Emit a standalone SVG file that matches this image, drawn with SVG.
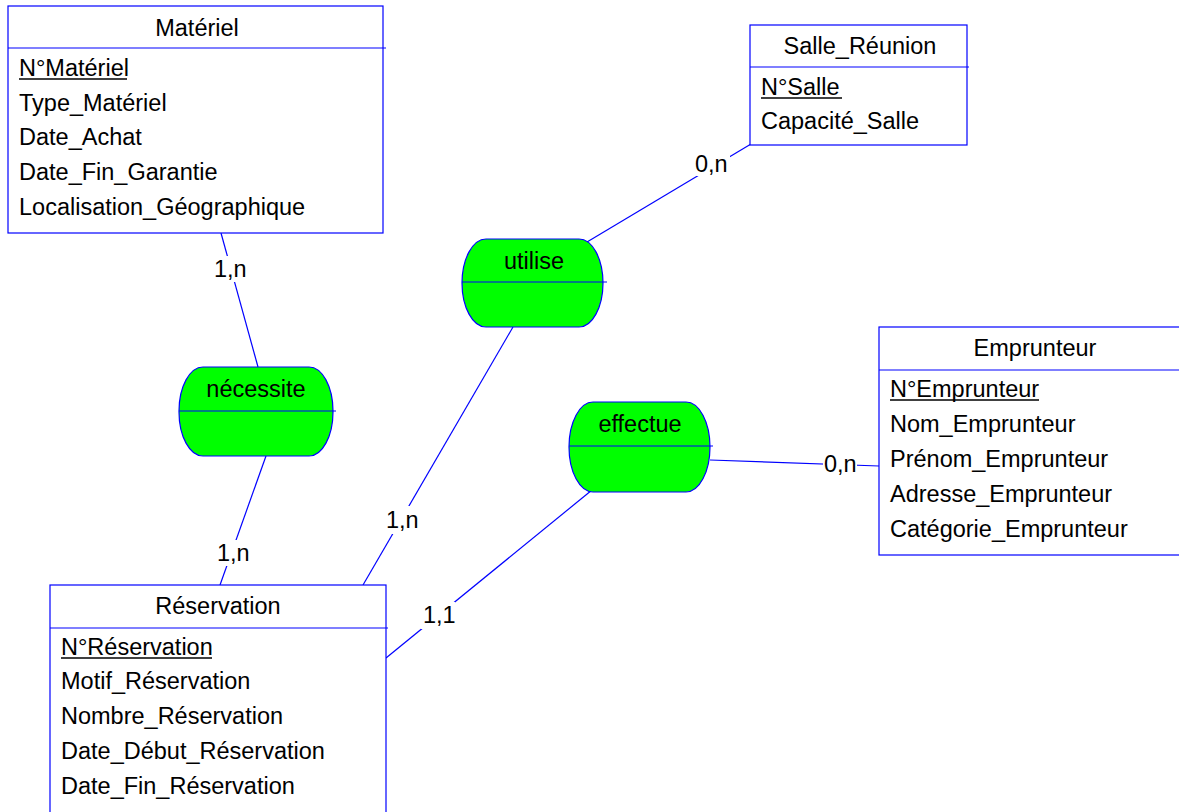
<svg xmlns="http://www.w3.org/2000/svg" width="1179" height="812" viewBox="0 0 1179 812">
<style>
text{font-family:"Liberation Sans",Arial,sans-serif;font-size:23.5px;fill:#000}
.hd{text-anchor:middle}
.box{fill:#fff;stroke:#0000ff;stroke-width:1.2}
.sep{stroke:#0000ff;stroke-width:1.2}
.rel{fill:#00ff00;stroke:#0000ff;stroke-width:1.2}
.cn{stroke:#0000ff;stroke-width:1.2;fill:none}
.lb{fill:#fff}
.u{stroke:#000;stroke-width:1.5}
</style>
<rect width="1179" height="812" fill="#fff"/>
<g id="connectors">
<line class="cn" x1="221" y1="233" x2="258" y2="367"/>
<line class="cn" x1="266" y1="456" x2="220" y2="585"/>
<line class="cn" x1="513" y1="327" x2="363" y2="585"/>
<line class="cn" x1="587" y1="242" x2="751" y2="144"/>
<line class="cn" x1="710" y1="460" x2="879" y2="466"/>
<line class="cn" x1="592" y1="490" x2="386" y2="658"/>
<rect class="lb" x="212" y="256" width="36" height="26"/>
<text x="214" y="277">1,n</text>
<rect class="lb" x="215" y="540" width="36" height="26"/>
<text x="217" y="561">1,n</text>
<rect class="lb" x="384" y="506" width="36" height="28"/>
<text x="386" y="528">1,n</text>
<rect class="lb" x="693" y="150" width="37" height="26"/>
<text x="695" y="172">0,n</text>
<rect class="lb" x="823" y="450" width="34" height="26"/>
<text x="824" y="472">0,n</text>
<rect class="lb" x="421" y="602" width="34" height="27"/>
<text x="423" y="623">1,1</text>
</g>
<g id="materiel">
<rect class="box" x="8" y="6" width="375" height="227"/>
<line class="sep" x1="8" y1="48" x2="386" y2="48"/>
<text class="hd" x="197" y="36">Matériel</text>
<text x="19" y="76">N°Matériel</text>
<line class="u" x1="19" y1="79" x2="127" y2="79"/>
<text x="19" y="111">Type_Matériel</text>
<text x="19" y="145">Date_Achat</text>
<text x="19" y="180">Date_Fin_Garantie</text>
<text x="19" y="215">Localisation_Géographique</text>
</g>
<g id="salle_reunion">
<rect class="box" x="750" y="25" width="217" height="120"/>
<line class="sep" x1="750" y1="67" x2="969" y2="67"/>
<text class="hd" x="860" y="54">Salle_Réunion</text>
<text x="761" y="95">N°Salle</text>
<line class="u" x1="761" y1="98" x2="842" y2="98"/>
<text x="761" y="129">Capacité_Salle</text>
</g>
<g id="emprunteur">
<rect class="box" x="879" y="327" width="312" height="228"/>
<line class="sep" x1="879" y1="370" x2="1191" y2="370"/>
<text class="hd" x="1035" y="356">Emprunteur</text>
<text x="890" y="397">N°Emprunteur</text>
<line class="u" x1="890" y1="400" x2="1039" y2="400"/>
<text x="890" y="432">Nom_Emprunteur</text>
<text x="890" y="467">Prénom_Emprunteur</text>
<text x="890" y="502">Adresse_Emprunteur</text>
<text x="890" y="537">Catégorie_Emprunteur</text>
</g>
<g id="reservation">
<rect class="box" x="50" y="585" width="336" height="240"/>
<line class="sep" x1="50" y1="628" x2="388" y2="628"/>
<text class="hd" x="218" y="614">Réservation</text>
<text x="61" y="655">N°Réservation</text>
<line class="u" x1="61" y1="658" x2="212" y2="658"/>
<text x="61" y="689">Motif_Réservation</text>
<text x="61" y="724">Nombre_Réservation</text>
<text x="61" y="759">Date_Début_Réservation</text>
<text x="61" y="794">Date_Fin_Réservation</text>
</g>
<g id="necessite">
<rect class="rel" x="179" y="367" width="154" height="89" rx="24" ry="44"/>
<line class="sep" x1="179" y1="411" x2="336" y2="411"/>
<text class="hd" x="256" y="397">nécessite</text>
</g>
<g id="utilise">
<rect class="rel" x="462" y="239" width="141" height="88" rx="24" ry="44"/>
<line class="sep" x1="462" y1="282" x2="607" y2="282"/>
<text class="hd" x="534" y="269">utilise</text>
</g>
<g id="effectue">
<rect class="rel" x="569" y="402" width="141" height="90" rx="24" ry="45"/>
<line class="sep" x1="569" y1="446" x2="713" y2="446"/>
<text class="hd" x="640" y="432">effectue</text>
</g>
</svg>
